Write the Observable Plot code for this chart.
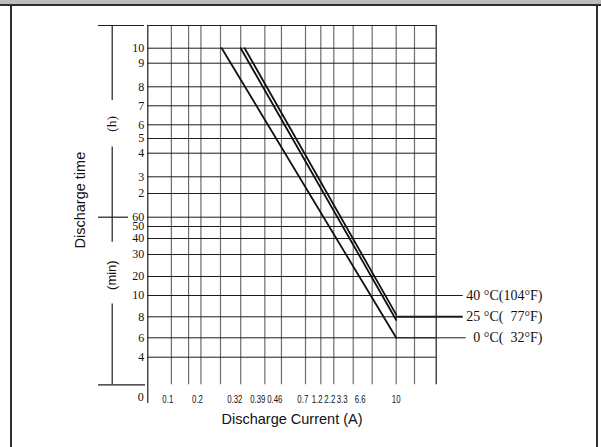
<!DOCTYPE html>
<html>
<head>
<meta charset="utf-8">
<script src="https://cdn.jsdelivr.net/npm/d3@7"></script>
<script src="https://cdn.jsdelivr.net/npm/@observablehq/plot@0.6"></script>
<style>
  html, body { margin: 0; padding: 0; background: #fff; }
  #wrap { position: relative; width: 601px; height: 447px; overflow: hidden; background: #fff; }
  #band { position: absolute; left: 0; top: 0; width: 601px; height: 4px; background: #bcbdc0; border-bottom: 2px solid #2e2e2e; }
  #frame { position: absolute; left: 10px; top: 0; width: 584px; height: 447px; border-left: 2px solid #2e2e2e; border-right: 2px solid #2e2e2e; }
  #chart { position: absolute; left: 0; top: 0; }
</style>
</head>
<body>
<div id="wrap"><div id="frame"></div><div id="band"></div><div id="chart"></div></div>
<script>
// ---- data ----
const xTickValues = [0.1, 0.2, 0.32, 0.39, 0.46, 0.7, 1.2, 2.2, 3.3, 6.6, 10];
const xTickLabels = ["0.1", "0.2", "0.32", "0.39", "0.46", "0.7", "1.2", "2.2", "3.3", "6.6", "10"];
const xGridCurrents = [0.112, 0.170, 0.211, 0.274, 0.338, 0.419, 0.517, 0.794, 1.486, 2.555, 5.317, 7.733, 10, 11.83];
const yTickMinutes = [600, 540, 480, 420, 360, 300, 240, 180, 120, 60, 50, 40, 30, 20, 10, 8, 6, 4];
const yTickLabels = ["10", "9", "8", "7", "6", "5", "4", "3", "2", "60", "50", "40", "30", "20", "10", "8", "6", "4"];
const seriesNames = ["40 \u00b0C(104\u00b0F)", "25 \u00b0C(\u00a0\u00a077\u00b0F)", "0 \u00b0C(\u00a0\u00a032\u00b0F)"];
const startCurrent = [0.350, 0.338, 0.278];
const endCurrent = [10, 10, 10];
const startMinutes = [600, 600, 600];
const endMinutes = [8.2, 7.7, 6];
const leaderMinutes = [10, 8, 6];
const leaderFrom = [9.2, 10, 10];
const leaderTo = [16.7, 16.7, 17.0];
const bracketSegments = [[690, 437], [265, 37.7], [9.2, 0]];

// ---- scale layout (piecewise, hand-drawn axis) ----
const xDomain = [0, 0.1, 0.2, 0.32, 0.39, 0.46, 0.7, 1.2, 2.2, 3.3, 6.6, 10, 14];
const xRange = [147.3, 167.3, 197, 234.3, 257.3, 274.3, 302.3, 316.7, 329.3, 341.7, 359.7, 395.7, 435.7];
const yDomain = [0, 4, 6, 8, 10, 20, 30, 40, 50, 60, 120, 180, 240, 300, 360, 420, 480, 540, 600, 690];
const yRange = [384.3, 356.7, 337.3, 316.3, 295, 276, 254, 238, 226, 216.7, 193, 176.3, 152.7, 138, 124.3, 105.3, 86.3, 62.7, 47.7, 25];
const xMax = 14, yTop = 690;

const curves = seriesNames.flatMap((s, i) => [
  {series: s, current: startCurrent[i], minutes: startMinutes[i]},
  {series: s, current: endCurrent[i], minutes: endMinutes[i]}
]);
const leaders = seriesNames.map((s, i) => ({series: s, y: leaderMinutes[i], x1: leaderFrom[i], x2: leaderTo[i], w: i === 1 ? 2 : 1}));
const xTicks = xTickValues.map((v, i) => ({v, label: xTickLabels[i]}));
const yTicks = yTickMinutes.map((v, i) => ({v, label: yTickLabels[i]}));

const serif = "Liberation Serif, Times New Roman, serif";
const sans = "Liberation Sans, Arial, sans-serif";

const chart = Plot.plot({
  width: 601,
  height: 447,
  marginTop: 25,
  marginBottom: 62.7,
  marginLeft: 147.3,
  marginRight: 165.3,
  x: {type: "linear", domain: xDomain, range: xRange, axis: null},
  y: {type: "linear", domain: yDomain, range: yRange, axis: null},
  marks: [
    // vertical grid
    Plot.ruleX(xGridCurrents, {x: d => d, y1: 0, y2: yTop, stroke: "#6e6e6e", strokeWidth: 1.2}),
    // horizontal grid
    Plot.ruleY(yTickMinutes, {y: d => d, x1: 0, x2: xMax, stroke: "#1c1c1c", strokeWidth: 1}),
    // top border, right border, left axis
    Plot.ruleY([yTop], {x1: 0, x2: xMax, stroke: "#1c1c1c", strokeWidth: 1.2}),
    Plot.ruleX([xMax], {y1: 0, y2: yTop, stroke: "#1c1c1c", strokeWidth: 1.2}),
    Plot.ruleX([0], {y1: -2.7, y2: yTop, stroke: "#1c1c1c", strokeWidth: 1.2}),
    // left bracket (h)/(min)
    Plot.ruleX(bracketSegments, {x: -0.178, y1: d => d[0], y2: d => d[1], stroke: "#1c1c1c", strokeWidth: 1.2}),
    Plot.ruleY([yTop], {x1: -0.2465, x2: -0.0165, stroke: "#1c1c1c", strokeWidth: 1.2}),
    Plot.ruleY([60], {x1: -0.2465, x2: -0.0965, stroke: "#1c1c1c", strokeWidth: 1.2}),
    Plot.ruleY([0], {x1: -0.2465, x2: -0.0115, stroke: "#1c1c1c", strokeWidth: 1.2}),
    // discharge curves
    Plot.line(curves, {x: "current", y: "minutes", z: "series", stroke: "#111", strokeWidth: 1.8}),
    // leader lines
    Plot.ruleY(leaders, {y: "y", x1: "x1", x2: "x2", stroke: "#1c1c1c", strokeWidth: "w"}),
    // series labels
    Plot.text(leaders, {y: "y", frameAnchor: "right", dx: 106.3, text: "series", textAnchor: "end", fontFamily: serif, fontSize: 14, fill: "#111"}),
    // y tick labels
    Plot.text(yTicks, {x: 0, y: "v", dx: -3.5, text: "label", textAnchor: "end", fontFamily: serif, fontSize: 12, fill: "#111"}),
    Plot.text(["0"], {x: 0, y: 0, dx: -7, dy: 12.5, text: d => d, fontFamily: serif, fontSize: 12, fill: "#111"}),
    // x tick labels
    Plot.text(xTicks, {x: "v", y: 0, dy: 15, text: "label", fontFamily: sans, fontSize: 11.5, fill: "#111", ariaDescription: "xticklabels"}),
    // axis titles
    Plot.text(["Discharge Current (A)"], {frameAnchor: "bottom", dy: 39.5, text: d => d, textAnchor: "middle", fontFamily: sans, fontSize: 14.5, fill: "#111"}),
    Plot.text(["Discharge time"], {frameAnchor: "left", dx: -67, dy: -5, rotate: -90, text: d => d, textAnchor: "middle", fontFamily: sans, fontSize: 14.5, fill: "#111"}),
    Plot.text(["(h)"], {frameAnchor: "left", dx: -36, dy: -81.2, rotate: -90, text: d => d, textAnchor: "middle", fontFamily: serif, fontSize: 13.5, fill: "#111"}),
    Plot.text(["(min)"], {frameAnchor: "left", dx: -36, dy: 70, rotate: -90, text: d => d, textAnchor: "middle", fontFamily: sans, fontSize: 13, fill: "#111"})
  ]
});
chart.style.background = "transparent";
document.getElementById("chart").appendChild(chart);
// condense the x tick labels like the narrow face of the original
let xTextEls = Array.from(chart.querySelectorAll('g[aria-description="xticklabels"] text'));
if (!xTextEls.length) {
  const set = new Set(xTickLabels);
  xTextEls = Array.from(chart.querySelectorAll("text")).filter(t => {
    if (!set.has(t.textContent)) return false;
    const b = t.getBBox();
    const m = t.getCTM();
    return m && (b.y + m.f) > 388;
  });
}
xTextEls.forEach(t => {
  const w = t.getComputedTextLength();
  if (w > 0) {
    t.setAttribute("textLength", (w * 0.68).toFixed(2));
    t.setAttribute("lengthAdjust", "spacingAndGlyphs");
  }
});
</script>
</body>
</html>
